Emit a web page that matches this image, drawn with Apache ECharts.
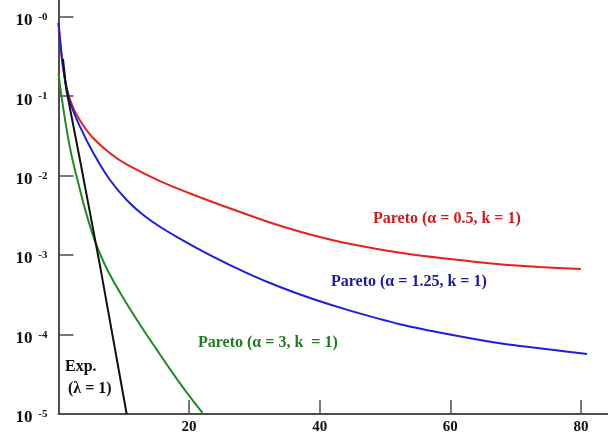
<!DOCTYPE html>
<html>
<head>
<meta charset="utf-8">
<script src="https://cdn.jsdelivr.net/npm/echarts@6/dist/echarts.min.js"></script>
<style>
  html, body { margin: 0; padding: 0; background: #fff; }
  #chart { width: 608px; height: 435px; }
</style>
</head>
<body>
<div id="chart"></div>
<script>
// values (x, density on a log scale)
var redX = [0, 0.54, 1.26, 2.27, 3.8, 5.33, 7.89, 10.44, 15.54, 20.64, 28.87, 33.92, 38.97, 44.18, 52.3, 59.95, 67.6, 73.7, 80];
var redY = [0.833, 0.285, 0.126, 0.0708, 0.0427, 0.0295, 0.0191, 0.0138, 0.00851, 0.00575, 0.00324, 0.00234, 0.00178, 0.00141, 0.00107, 0.000891, 0.000767, 0.000708, 0.000668];

var blueX = [0, 0.54, 1.0, 1.76, 3.29, 5.33, 7.89, 10.44, 12.99, 15.54, 18.3, 23.2, 28.87, 33.92, 38.97, 44.64, 52.3, 59.95, 67.6, 75.27, 80.93];
var blueY = [0.833, 0.3, 0.16, 0.0844, 0.0413, 0.0193, 0.00881, 0.00493, 0.00319, 0.00227, 0.00166, 0.001, 0.000594, 0.000396, 0.00028, 0.0002, 0.000135, 0.0001, 0.0000776, 0.0000646, 0.0000569];

var greenX = [0, 0.54, 1.76, 3.03, 4.32, 5.59, 7.12, 8.91, 10.95, 12.99, 15.04, 17.08, 19.11, 22.05];
var greenY = [0.196, 0.0895, 0.0223, 0.00807, 0.00319, 0.0015, 0.00075, 0.000398, 0.000209, 0.000115, 0.0000646, 0.0000367, 0.0000213, 0.0000103];

var expX = [0.69, 1.15, 3.29, 6.36, 10.44];
var expY = [0.294, 0.127, 0.0157, 0.00073, 0.00001];

var xTicks = [20, 40, 60, 80];

var serif = '"Liberation Serif", "DejaVu Serif", serif';

function pairs(xs, ys) {
    return xs.map(function (x, i) { return [x, ys[i]]; });
}

function curve(name, color, xs, ys, smooth) {
    return {
        name: name,
        type: 'line',
        showSymbol: false,
        smooth: smooth,
        lineStyle: { color: color, width: 2 },
        data: pairs(xs, ys)
    };
}

function note(text, left, top, color) {
    return {
        type: 'text',
        left: left,
        top: top,
        style: {
            text: text,
            fill: color,
            font: 'bold 16px ' + serif
        }
    };
}

var chart = echarts.init(document.getElementById('chart'), null, { renderer: 'canvas' });

// axes run past the picture edge so that no end tick shows up
var option = {
    animation: false,
    grid: {
        left: 58.5, top: -62.8, width: 653, height: 476.8,
        containLabel: false, outerBoundsMode: 'none'
    },
    xAxis: {
        type: 'value',
        min: 0,
        max: 100,
        interval: 20,
        axisLine: { lineStyle: { color: '#4d4d4d', width: 2 } },
        axisTick: { inside: true, length: 14, lineStyle: { color: '#4d4d4d', width: 1.5 } },
        splitLine: { show: false },
        axisLabel: {
            margin: 6,
            color: '#111',
            fontFamily: serif,
            fontWeight: 'bold',
            fontSize: 15,
            formatter: function (v) {
                return xTicks.indexOf(v) >= 0 ? String(v) : '';
            }
        }
    },
    yAxis: {
        type: 'log',
        min: 0.00001,
        max: 10,
        axisLine: { show: true, lineStyle: { color: '#4d4d4d', width: 2 } },
        axisTick: { show: true, inside: true, length: 15, lineStyle: { color: '#4d4d4d', width: 1.5 } },
        splitLine: { show: false },
        axisLabel: {
            margin: 11,
            padding: [8, 0, 0, 0],
            formatter: function (v) {
                var l = Math.log10(v);
                var e = Math.round(l);
                if (e > 0 || Math.abs(l - e) > 0.01) return '';
                return '{b|10}{s| -' + (-e) + '}';
            },
            rich: {
                b: { fontFamily: serif, fontWeight: 'bold', fontSize: 17, color: '#111', lineHeight: 18 },
                s: { fontFamily: serif, fontWeight: 'bold', fontSize: 11, color: '#111', lineHeight: 11, verticalAlign: 'top', padding: [0, 0, 0, 3] }
            }
        }
    },
    series: [
        curve('red', '#e3221f', redX, redY, 0.3),
        curve('blue', '#1d1ee0', blueX, blueY, 0.3),
        curve('green', '#1f8c22', greenX, greenY, 0.4),
        curve('exp', '#111111', expX, expY, false)
    ],
    graphic: [
        note('Pareto (\u03b1 = 0.5, k = 1)', 373, 211, '#d41a1a'),
        note('Pareto (\u03b1 = 1.25, k = 1)', 331, 274, '#1a1aa6'),
        note('Pareto (\u03b1 = 3, k  = 1)', 198, 335, '#1e7d22'),
        note('Exp.', 65, 359, '#111'),
        note('(\u03bb = 1)', 68, 381, '#111')
    ]
};

option && chart.setOption(option);
</script>
</body>
</html>
